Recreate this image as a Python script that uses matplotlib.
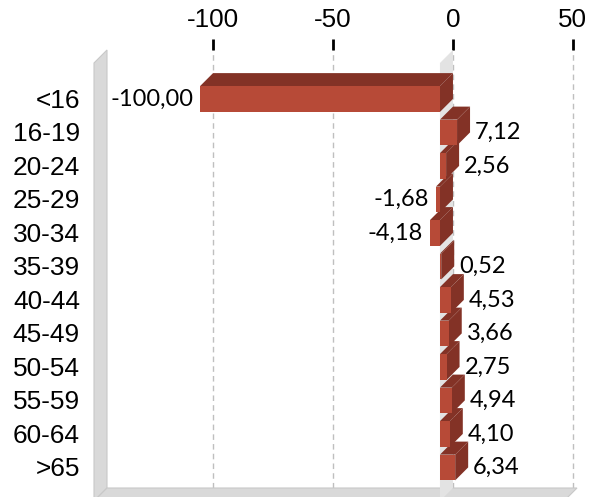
import numpy as np
import matplotlib
matplotlib.use("Agg")
import matplotlib.pyplot as plt
from matplotlib.patches import Polygon, Rectangle

categories = ["<16", "16-19", "20-24", "25-29", "30-34", "35-39",
              "40-44", "45-49", "50-54", "55-59", "60-64", ">65"]
values = [-100.00, 7.12, 2.56, -1.68, -4.18, 0.52,
          4.53, 3.66, 2.75, 4.94, 4.10, 6.34]
value_labels = ["-100,00", "7,12", "2,56", "-1,68", "-4,18", "0,52",
                "4,53", "3,66", "2,75", "4,94", "4,10", "6,34"]
xticks = [-100, -50, 0, 50]

W, H, DPI = 600, 497, 100
fig = plt.figure(figsize=(W / DPI, H / DPI), dpi=DPI)
L, R, T, B = 107, 577, 50, 488
ax = fig.add_axes([L / W, (H - B) / H, (R - L) / W, (B - T) / H])
ax.set_facecolor("none")
xmin, xmax = -144.2, 51.7
ax.set_xlim(xmin, xmax)
ax.set_ylim(12.0, -1.075)

# depth offset (display px) from back plane to front plane
D = 13
p0 = ax.transData.transform((0, 0))
ddx, ddy = ax.transData.inverted().transform(p0 + np.array([-D, -D]))
ytop, ybot = -1.075, 12.0

wall_c = "#d9d9d9"
wall_e = "#c8c8c8"
# left wall
ax.add_patch(Polygon([(xmin, ytop), (xmin, ybot), (xmin + ddx, ybot + ddy), (xmin + ddx, ytop + ddy)],
                     closed=True, facecolor=wall_c, edgecolor=wall_e, lw=0.8, zorder=1, clip_on=False))
# floor
ax.add_patch(Polygon([(xmin, ybot), (xmax, ybot), (xmax + ddx, ybot + ddy), (xmin + ddx, ybot + ddy)],
                     closed=True, facecolor=wall_c, edgecolor=wall_e, lw=0.8, zorder=1, clip_on=False))
# zero wall
ax.add_patch(Polygon([(0, ytop), (0, ybot), (ddx, ybot + ddy), (ddx, ytop + ddy)],
                     closed=True, facecolor="#e3e3e3", edgecolor="none", zorder=1, clip_on=False))

front_c = "#B74A37"
dark_c = "#833226"
h = 0.77
for i in range(len(values) - 1, -1, -1):
    v = values[i]
    x0, x1 = min(0, v), max(0, v)
    yt, yb = i - h / 2, i + h / 2
    ax.add_patch(Polygon([(x0 + ddx, yt + ddy), (x1 + ddx, yt + ddy), (x1, yt), (x0, yt)],
                         closed=True, facecolor=dark_c, edgecolor="none", zorder=3, clip_on=False))
    ax.add_patch(Polygon([(x1 + ddx, yt + ddy), (x1, yt), (x1, yb), (x1 + ddx, yb + ddy)],
                         closed=True, facecolor=dark_c, edgecolor="none", zorder=3, clip_on=False))
    ax.add_patch(Rectangle((x0 + ddx, yt + ddy), x1 - x0, h,
                           facecolor=front_c, edgecolor="none", zorder=3, clip_on=False))

# value labels
px_unit = ax.transData.transform((1, 0))[0] - p0[0]
for i, (v, lab) in enumerate(zip(values, value_labels)):
    if v >= 0:
        ax.text(v + 5 / px_unit, i + ddy, lab, ha="left", va="center",
                fontsize=17, family="Lato", color="black", zorder=5)
    else:
        ax.text(v + ddx - 7 / px_unit, i + ddy, lab, ha="right", va="center",
                fontsize=17, family="Lato", color="black", zorder=5)

# category labels
for i, c in enumerate(categories):
    ax.text(xmin - 27 / px_unit, i + ddy + 0.05, c, ha="right", va="center",
            fontsize=18.9, family="Liberation Sans", color="black")

ax.set_yticks([])
ax.xaxis.tick_top()
ax.set_xticks(xticks)
ax.set_xticklabels([str(t) for t in xticks], fontsize=18.7, family="Liberation Sans")
ax.tick_params(axis="x", length=8, width=2, color="black", pad=5)
ax.grid(axis="x", color="#bfbfbf", linestyle=(0, (4, 3)), linewidth=1, zorder=0)
ax.set_axisbelow(True)
for s in ax.spines.values():
    s.set_visible(False)

fig.savefig("out.png", dpi=DPI)
